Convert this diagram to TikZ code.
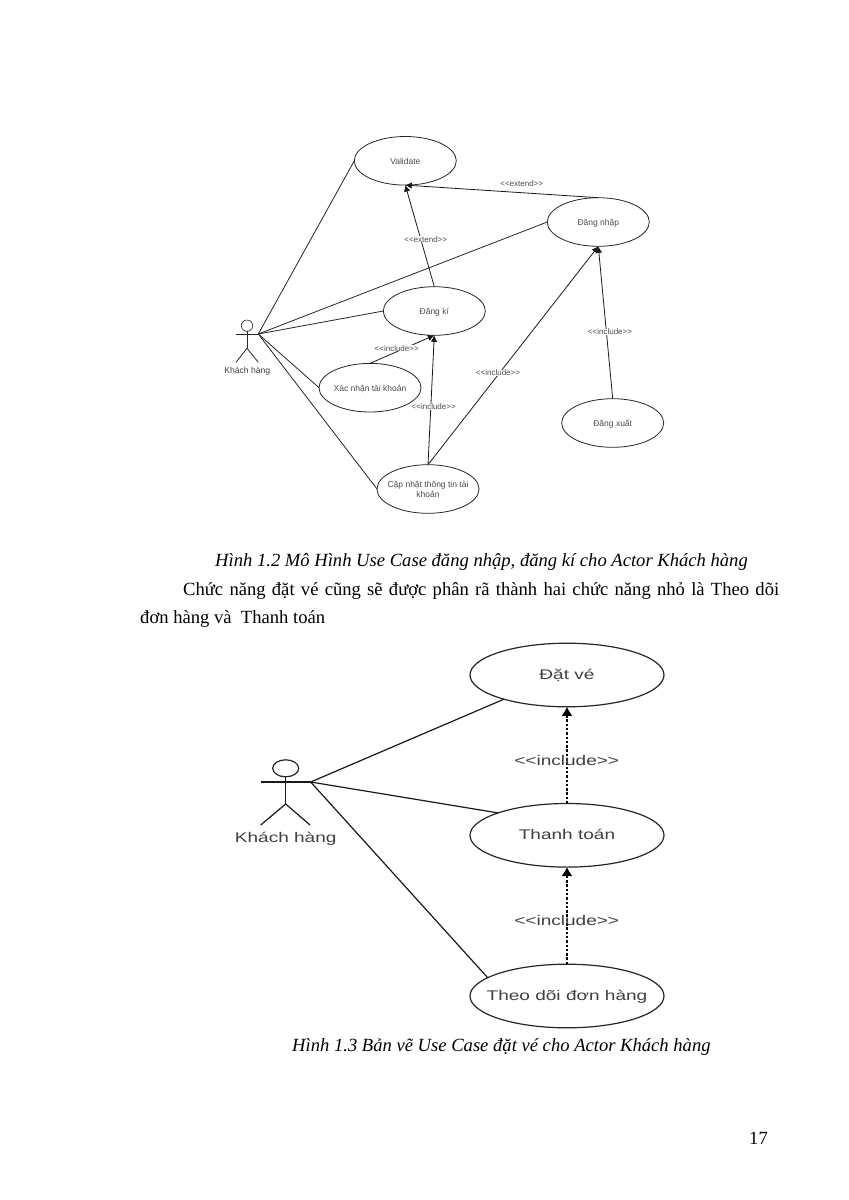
\documentclass[tikz,border=0pt]{standalone}
\usepackage{fontspec}
\setmainfont{Liberation Serif}
\newfontfamily\diagfont{Liberation Sans}
\usetikzlibrary{shapes.geometric,arrows.meta}
\newcommand{\zt}[1]{\smash{\makebox[0pt]{\raisebox{-.5\height}{\begin{tabular}[b]{@{}c@{}}#1\end{tabular}}}}}
\newcommand{\ztup}[1]{\smash{\makebox[0pt]{\raisebox{1.5pt}{\raisebox{-.5\height}{\begin{tabular}[b]{@{}c@{}}#1\end{tabular}}}}}}
\newcommand{\wide}[1]{\scalebox{1.36}[1]{#1}}
\tikzset{
  ucA/.style={ellipse,draw=black!85,line width=.8pt,inner sep=0pt,outer sep=0pt,minimum width=102pt,minimum height=48.6pt,text=black!70,font=\diagfont\fontsize{8.5pt}{10.5pt}\selectfont},
  ucB/.style={ellipse,draw=black!85,line width=1.2pt,inner sep=0pt,outer sep=0pt,minimum width=194pt,minimum height=63.6pt,text=black!75,font=\diagfont\fontsize{14pt}{17pt}\selectfont},
  assocA/.style={draw=black!85,line width=.8pt},
  assocB/.style={draw=black!90,line width=1.2pt},
  arrA/.style={draw=black!90,line width=.8pt,-{Latex[length=6.5pt,width=6.5pt]}},
  arrB/.style={draw=black,line width=1.3pt,dashed,dash pattern=on 2.5pt off 1.8pt,-{Latex[length=9pt,width=11pt]}},
  lblA/.style={fill=white,inner sep=0pt,text=black!70,font=\diagfont\fontsize{8pt}{10pt}\selectfont},
  lblB/.style={inner sep=0pt,text=black!75,font=\diagfont\fontsize{14pt}{17pt}\selectfont},
  actorname/.style={inner sep=0pt,text=black!75},
  pagetext/.style={inner sep=0pt,anchor=base west,text=black,font=\fontsize{18.6pt}{22pt}\selectfont},
  capt/.style={pagetext,font=\itshape\fontsize{18.6pt}{22pt}\selectfont}
}
\begin{document}
\begin{tikzpicture}[x=1pt,y=-1pt]
\useasboundingbox[fill=white] (0,0) rectangle (849,1200);
% upper diagram
\node[ucA] (val) at (405.3,160.8) {\zt{Validate}};
\node[ucA] (dn) at (598.3,222) {\zt{Đăng nhập}};
\node[ucA] (dk) at (434.3,311) {\zt{Đăng kí}};
\node[ucA] (xn) at (370,387.7) {\zt{Xác nhận tài khoản}};
\node[ucA] (cn) at (428,489) {\zt{Cập nhật thông tin tài\\khoản}};
\node[ucA] (dx) at (612.7,423) {\zt{Đăng xuất}};
% actor 1
\node[circle,draw=black!85,line width=.6pt,minimum size=11.4pt,inner sep=0pt,outer sep=0pt] (h1) at (247,325.7) {};
\coordinate (a1l) at (236,334);
\coordinate (a1r) at (258.3,334);
\coordinate (a1b) at (247,348.3);
\coordinate (a1ll) at (236,362.3);
\coordinate (a1lr) at (258.3,362.3);
\draw[assocA] (a1l) -- (a1r);
\draw[assocA] (h1) -- (a1b);
\draw[assocA] (a1ll) -- (a1b) -- (a1lr);
\node[actorname,font=\diagfont\fontsize{8.6pt}{10pt}\selectfont] (an1) at (247.3,371.3) {Khách hàng};
\draw[assocA] (a1r) -- (val.west);
\draw[assocA] (a1r) -- (dn.west);
\draw[assocA] (a1r) -- (dk.west);
\draw[assocA] (a1r) -- (xn.west);
\draw[assocA] (a1r) -- (cn.west);
\draw[arrA] (dk.north) -- (val.south);
\draw[arrA] (dn.north) -- (val.south);
\draw[arrA] (xn.north) -- (dk.south);
\draw[arrA] (cn.north) -- (dk.south);
\draw[arrA] (cn.north) -- (dn.south);
\draw[arrA] (dx.north) -- (dn.south);
\node[lblA] (l1) at (425.7,239.3) {<<extend>>};
\node[lblA,fill=none] (l2) at (521.7,183.3) {<<extend>>};
\node[lblA] (l3) at (396.7,348.3) {<<include>>};
\node[lblA] (l4) at (433.7,407) {<<include>>};
\node[lblA] (l5) at (498,373) {<<include>>};
\node[lblA] (l6) at (610,331.7) {<<include>>};
% captions and paragraph
\node[capt] (c1) at (215,566) {Hình 1.2 Mô Hình Use Case đăng nhập, đăng kí cho Actor Khách hàng};
\node[pagetext] (p1) at (183,595) {\makebox[596pt][s]{Chức năng đặt vé cũng sẽ được phân rã thành hai chức năng nhỏ là Theo dõi}};
\node[pagetext] (p2) at (140,623) {đơn hàng và\ \ Thanh toán};
% lower diagram
\node[ucB] (dv) at (567,675) {\ztup{\wide{Đặt vé}}};
\node[ucB] (tt) at (567,835.3) {\ztup{\wide{Thanh toán}}};
\node[ucB] (td) at (567,996) {\ztup{\wide{Theo dõi đơn hàng}}};
\node[ellipse,draw=black!85,line width=1.2pt,minimum width=26pt,minimum height=17pt,inner sep=0pt,outer sep=0pt] (h2) at (285.7,768.3) {};
\coordinate (a2l) at (260.7,782);
\coordinate (a2r) at (310.7,782);
\coordinate (a2b) at (285.7,804);
\coordinate (a2ll) at (260.7,825);
\coordinate (a2lr) at (310,825);
\draw[assocB] (a2l) -- (a2r);
\draw[assocB] (h2) -- (a2b);
\draw[assocB] (a2ll) -- (a2b) -- (a2lr);
\node[actorname,font=\diagfont\fontsize{14pt}{17pt}\selectfont] (an2) at (285.7,839) {\wide{Khách hàng}};
\draw[assocB] (a2r) -- (dv.201.6);
\draw[assocB] (a2r) -- (tt.162.7);
\draw[assocB] (a2r) -- (td.167.4);
\draw[arrB] (tt.north) -- (dv.south);
\draw[arrB] (td.north) -- (tt.south);
\node[lblB] (l7) at (566.7,760) {\wide{<<include>>}};
\node[lblB] (l8) at (566.7,920) {\wide{<<include>>}};
\node[capt] (c2) at (292,1051) {Hình 1.3 Bản vẽ Use Case đặt vé cho Actor Khách hàng};
\node[pagetext] (pg) at (749,1144) {17};
\end{tikzpicture}
\end{document}
